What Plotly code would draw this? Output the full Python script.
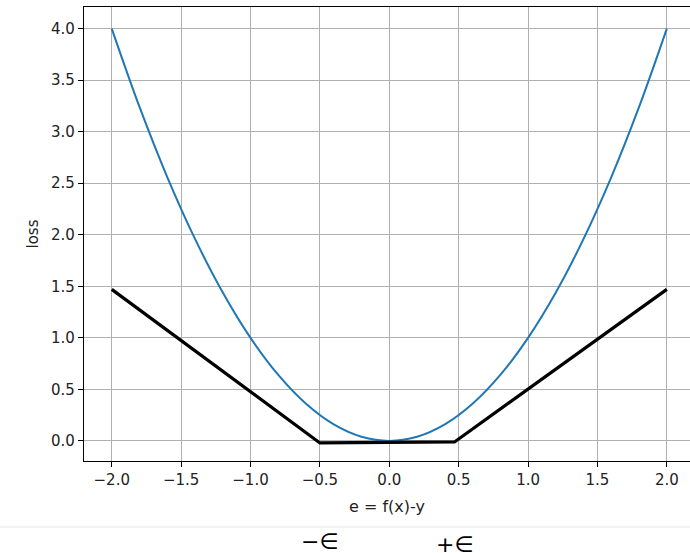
import plotly.graph_objects as go

# Blue curve (squared loss)
sq_x = [-2.0, -1.8, -1.6, -1.4, -1.2, -1.0, -0.8, -0.6, -0.4, -0.2, 0.0,
        0.2, 0.4, 0.6, 0.8, 1.0, 1.2, 1.4, 1.6, 1.8, 2.0]
sq_y = [4.0, 3.24, 2.56, 1.96, 1.44, 1.0, 0.64, 0.36, 0.16, 0.04, 0.0,
        0.04, 0.16, 0.36, 0.64, 1.0, 1.44, 1.96, 2.56, 3.24, 4.0]

# Black epsilon-insensitive loss
eps_x = [-2.0, -0.5, 0.47, 2.0]
eps_y = [1.47, -0.02, -0.01, 1.47]

x_ticks = [-2.0, -1.5, -1.0, -0.5, 0.0, 0.5, 1.0, 1.5, 2.0]
x_tick_text = ["\u22122.0", "\u22121.5", "\u22121.0", "\u22120.5", "0.0", "0.5", "1.0", "1.5", "2.0"]
y_ticks = [0.0, 0.5, 1.0, 1.5, 2.0, 2.5, 3.0, 3.5, 4.0]
y_tick_text = ["0.0", "0.5", "1.0", "1.5", "2.0", "2.5", "3.0", "3.5", "4.0"]

eps_labels = ["\u2212\u2208", "+\u2208"]
eps_label_x = [-0.5, 0.47]
eps_label_y = [-0.178, -0.183]

FONT = "DejaVu Sans"

fig = go.Figure()
fig.add_trace(go.Scatter(x=sq_x, y=sq_y, mode="lines", line=dict(color="#1f77b4", width=2, shape="spline"),
                         showlegend=False, hoverinfo="skip"))
fig.add_trace(go.Scatter(x=eps_x, y=eps_y, mode="lines", line=dict(color="black", width=3.2),
                         showlegend=False, hoverinfo="skip"))

for t, xx, yy in zip(eps_labels, eps_label_x, eps_label_y):
    fig.add_annotation(text=t, x=xx, y=yy, xref="x", yref="paper", showarrow=False,
                       font=dict(family=FONT, size=22, color="black"), xanchor="center", yanchor="middle")

# Separator line below the chart
fig.add_shape(type="line", xref="paper", yref="paper", x0=-0.14, x1=1.0, y0=-0.1454, y1=-0.1454,
              line=dict(color="#e6e6e6", width=1))

fig.update_layout(
    width=690, height=553,
    margin=dict(l=84, r=0, t=7, b=92),
    paper_bgcolor="white", plot_bgcolor="white",
    font=dict(family=FONT, size=15, color="#222222"),
    xaxis=dict(range=[-2.2, 2.167], tickvals=x_ticks, ticktext=x_tick_text,
               showgrid=True, gridcolor="#b0b0b0", gridwidth=1, zeroline=False,
               showline=True, linecolor="black", linewidth=1.2, mirror=True,
               ticks="outside", ticklen=5, tickcolor="black",
               title=dict(text="e = f(x)-y", font=dict(size=16), standoff=12)),
    yaxis=dict(range=[-0.195, 4.21], tickvals=y_ticks, ticktext=y_tick_text,
               showgrid=True, gridcolor="#b0b0b0", gridwidth=1, zeroline=False,
               showline=True, linecolor="black", linewidth=1.2,
               ticks="outside", ticklen=5, tickcolor="black",
               title=dict(text="loss", font=dict(size=15), standoff=8)),
)

fig.write_html("out.html")
